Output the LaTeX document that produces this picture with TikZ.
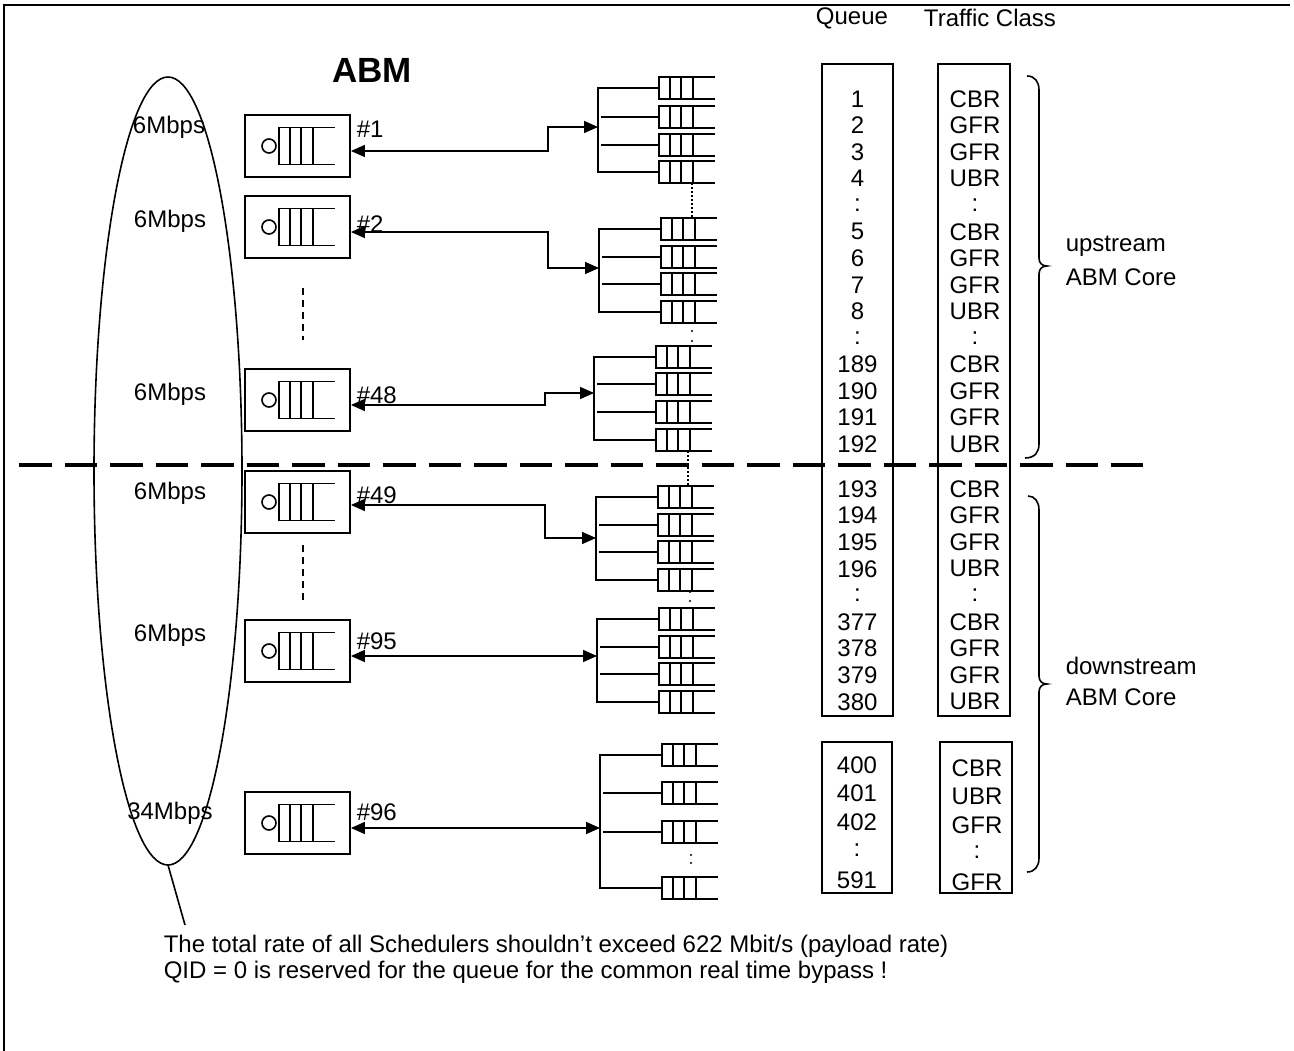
\documentclass[tikz,border=0pt]{standalone}
\usepackage{fontspec}
\setmainfont{Liberation Sans}
\usetikzlibrary{arrows.meta}
\newcommand\qcluster[6]{%
  \draw (#2,#3) -- (#1,#3) -- (#1,#6) -- (#2,#6);
  \draw ({#1+3},#4) -- (#2,#4);
  \draw ({#1+3},#5) -- (#2,#5);
  \foreach \yy in {#3,#4,#5,#6} \pic at (#2,\yy) {smallq};}
\begin{document}
\begin{tikzpicture}[x=1pt,y=-1pt,line width=1.6pt,
  every node/.style={font=\fontsize{24}{28}\selectfont, inner sep=0pt},
  schedbox/.style={draw, line width=1.8pt, minimum width=105pt, minimum height=62pt},
  tablebox/.style={draw, line width=1.6pt},
  dar/.style={{Triangle[length=14pt,width=12pt]}-{Triangle[length=14pt,width=12pt]}},
  sep/.style={line width=4pt, dash pattern=on 32.5pt off 13pt},
  vdash/.style={line width=1.5pt, dash pattern=on 7pt off 5pt},
  vdots/.style={line width=2pt, dash pattern=on 2pt off 2pt},
  smallq/.pic={\draw (56,-11) -- (0,-11) -- (0,11) -- (56,11);
    \foreach \b in {11,22,34} \draw (\b,-11) -- (\b,11);},
  bigq/.pic={\draw (-28.5,0) circle[radius=7pt];
    \draw (37.5,-18.5) -- (-18.5,-18.5) -- (-18.5,18.5) -- (37.5,18.5);
    \foreach \b in {-7.5,3.5,15.5} \draw (\b,-18.5) -- (\b,18.5);}
]
\useasboundingbox (0,0) rectangle (1294,1051);
% frame
\draw[line width=2pt] (4,1051) -- (4,5) -- (1290,5);
% title
\node[font=\bfseries\fontsize{35}{40}\selectfont] (abm) at (372,70) {ABM};
% ellipse
\draw (168,471) ellipse [x radius=74pt, y radius=394pt];
\coordinate (ebot) at (168,865);
\coordinate (eend) at (185,925);
\draw (ebot) -- (eend);
% schedulers: name / box centre / label offset above arrow
\foreach \n/\cy/\ly in {1/146/22,2/227/8,48/400/10,49/502/12,95/651/15,96/823/16}{
  \node[schedbox] (s\n) at (297.5,\cy) {};
  \pic at (s\n.center) {bigq};
  \node[anchor=west] (h\n) at (356,\cy+5-\ly) {\#\n};
}
% rates
\node (r1) at (169,127) {6Mbps};
\node (r2) at (170,221) {6Mbps};
\node (r48) at (170,394) {6Mbps};
\node (r49) at (170,493) {6Mbps};
\node (r95) at (170,635) {6Mbps};
\node (r96) at (170,813) {34Mbps};
% vertical dashed between schedulers
\draw[vdash] (303,288) -- (303,340);
\draw[vdash] (303,545) -- (303,600);
% queue clusters
\qcluster{598}{659}{88}{117}{145}{172}
\qcluster{599}{661}{229}{257}{284}{312}
\qcluster{594}{656}{357}{384}{412}{440}
\qcluster{596}{658}{497}{525}{552}{580}
\qcluster{597}{659}{619}{647}{674}{702}
\qcluster{600}{662}{755}{793}{832}{888}
% dotted continuation
\draw[vdots] (692,183) -- (692,218);
\draw[vdots] (688,451) -- (688,486);
\fill (692,331) circle[radius=1.2pt] (692,341) circle[radius=1.2pt];
\fill (690,592) circle[radius=1.2pt] (690,601) circle[radius=1.2pt];
\fill (691,855) circle[radius=1.2pt] (691,863) circle[radius=1.2pt];
% bus targets
\coordinate (b1) at (598,127); \coordinate (k1) at (548,127);
\coordinate (b2) at (599,268); \coordinate (k2) at (548,268);
\coordinate (b48) at (594,393); \coordinate (k48) at (545,393);
\coordinate (b49) at (596,538); \coordinate (k49) at (545,538);
\coordinate (b95) at (597,656);
\coordinate (b96) at (600,828);
\draw[dar] ([yshift=-5pt]s1.east) -| (k1) -- (b1);
\draw[dar] ([yshift=-5pt]s2.east) -| (k2) -- (b2);
\draw[dar] ([yshift=-5pt]s48.east) -| (k48) -- (b48);
\draw[dar] ([yshift=-3pt]s49.east) -| (k49) -- (b49);
\draw[dar] ([yshift=-5pt]s95.east) -- (b95);
\draw[dar] ([yshift=-5pt]s96.east) -- (b96);
% tables
\node (hq) at (852,18) {Queue};
\node (ht) at (990,18) {Traffic Class};
\node[tablebox, minimum width=71pt, minimum height=652pt] (qbox) at (857.5,390) {};
\node[tablebox, minimum width=72pt, minimum height=652pt] (tbox) at (974,390) {};
\node[tablebox, minimum width=70pt, minimum height=151pt] (qbox2) at (857,817.5) {};
\node[tablebox, minimum width=72pt, minimum height=151pt] (tbox2) at (976,817.5) {};
\foreach \t [count=\i from 0] in {1,2,3,4,:,5,6,7,8,:,189,190,191,192}
  \node (qa\i) at (857.5,99+26.55*\i) {\t};
\foreach \t [count=\i from 0] in {CBR,GFR,GFR,UBR,:,CBR,GFR,GFR,UBR,:,CBR,GFR,GFR,UBR}
  \node (ta\i) at (975,99+26.55*\i) {\t};
\foreach \t [count=\i from 0] in {193,194,195,196,:,377,378,379,380}
  \node (qb\i) at (857.5,489+26.6*\i) {\t};
\foreach \t [count=\i from 0] in {CBR,GFR,GFR,UBR,:,CBR,GFR,GFR,UBR}
  \node (tb\i) at (975,489+26.6*\i) {\t};
\foreach \t/\yy [count=\i] in {400/765,401/793,402/822,:/850,591/880}
  \node (qc\i) at (857,\yy) {\t};
\foreach \t/\yy [count=\i] in {CBR/768,UBR/796,GFR/825,:/852,GFR/882}
  \node (tc\i) at (977,\yy) {\t};
% separator
\draw[sep] (19,465) -- (1143,465);
% braces
\draw (1027,76) .. controls (1035,76) and (1039,82) .. (1039,90) -- (1039,258)
  .. controls (1039,263) and (1042,266) .. (1047,266)
  .. controls (1042,266) and (1039,269) .. (1039,274) -- (1039,444)
  .. controls (1039,452) and (1035,458) .. (1025,458);
\draw (1028,496) .. controls (1035,496) and (1039,502) .. (1039,510) -- (1039,676)
  .. controls (1039,681) and (1042,684) .. (1047,684)
  .. controls (1042,684) and (1039,687) .. (1039,692) -- (1039,858)
  .. controls (1039,866) and (1035,872) .. (1027,872);
\node[anchor=west] (up1) at (1065,246) {upstream};
\node[anchor=west] (up2) at (1065,277) {ABM Core};
\node[anchor=west] (dn1) at (1065,666) {downstream};
\node[anchor=west] (dn2) at (1065,697) {ABM Core};
% notes
\node[anchor=west] (n1) at (163,946) {The total rate of all Schedulers shouldn’t exceed 622 Mbit/s (payload rate)};
\node[anchor=west] (n2) at (163,972) {QID = 0 is reserved for the queue for the common real time bypass !};
\end{tikzpicture}
\end{document}
